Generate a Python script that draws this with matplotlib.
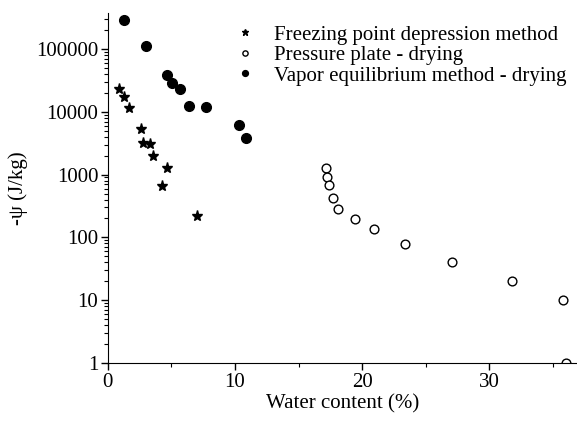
import matplotlib
matplotlib.use("Agg")
import matplotlib.pyplot as plt
from matplotlib.ticker import LogLocator, FuncFormatter, MultipleLocator, NullFormatter

# Water content (%) and matric potential -psi (J/kg)
fpd_water = [0.9, 1.26, 1.63, 2.6, 2.78, 3.31, 3.54, 4.67, 4.28, 6.98]
fpd_psi = [22800, 17400, 11400, 5300, 3200, 3100, 1950, 1260, 670, 220]

pp_water = [17.14, 17.27, 17.43, 17.74, 18.13, 19.45, 20.94, 23.36, 27.1, 31.76, 35.83, 36.06]
pp_psi = [1260, 930, 680, 425, 280, 196, 136, 79, 40, 20, 10, 1]

ve_water = [1.28, 3.0, 4.67, 5.07, 5.67, 6.4, 7.74, 10.31, 10.84]
ve_psi = [290000, 113000, 38500, 29000, 23300, 12500, 12000, 6100, 3900]

plt.rcParams["font.family"] = ["Liberation Serif", "DejaVu Serif"]
plt.rcParams["font.size"] = 15

fig = plt.figure(figsize=(5.77, 4.23), dpi=100)
ax = fig.add_axes([0.187, 0.142, 0.813, 0.827])

ax.plot(fpd_water, fpd_psi, "*", color="black", ms=8, ls="none",
        label="Freezing point depression method")
ax.plot(pp_water, pp_psi, "o", mfc="white", mec="black", mew=1.0, ms=6.3, ls="none",
        label="Pressure plate - drying")
ax.plot(ve_water, ve_psi, "o", color="black", ms=7, ls="none",
        label="Vapor equilibrium method - drying")

ax.set_yscale("log")
ax.set_ylim(1, 3.74e5)
ax.set_xlim(0, 36.9)
ax.xaxis.set_major_locator(MultipleLocator(10))
ax.xaxis.set_minor_locator(MultipleLocator(5))
ax.yaxis.set_major_locator(LogLocator(base=10, numticks=10))
ax.yaxis.set_minor_locator(LogLocator(base=10, subs=range(2, 10), numticks=20))
ax.yaxis.set_major_formatter(FuncFormatter(lambda v, p: f"{v:.0f}"))
ax.yaxis.set_minor_formatter(NullFormatter())

for s in ("top", "right"):
    ax.spines[s].set_visible(False)
ax.tick_params(which="major", direction="out", length=5, width=1, pad=2)
ax.tick_params(which="minor", direction="out", length=3, width=0.8)

ax.set_xlabel("Water content (%)", labelpad=2)
ax.set_ylabel("-ψ (J/kg)", labelpad=6)

ax.legend(loc="upper left", bbox_to_anchor=(0.253, 0.99), frameon=False,
          markerscale=0.6, handlelength=1.0, handletextpad=0.9,
          labelspacing=0.05, borderaxespad=0)

fig.savefig("out.png", dpi=100)
